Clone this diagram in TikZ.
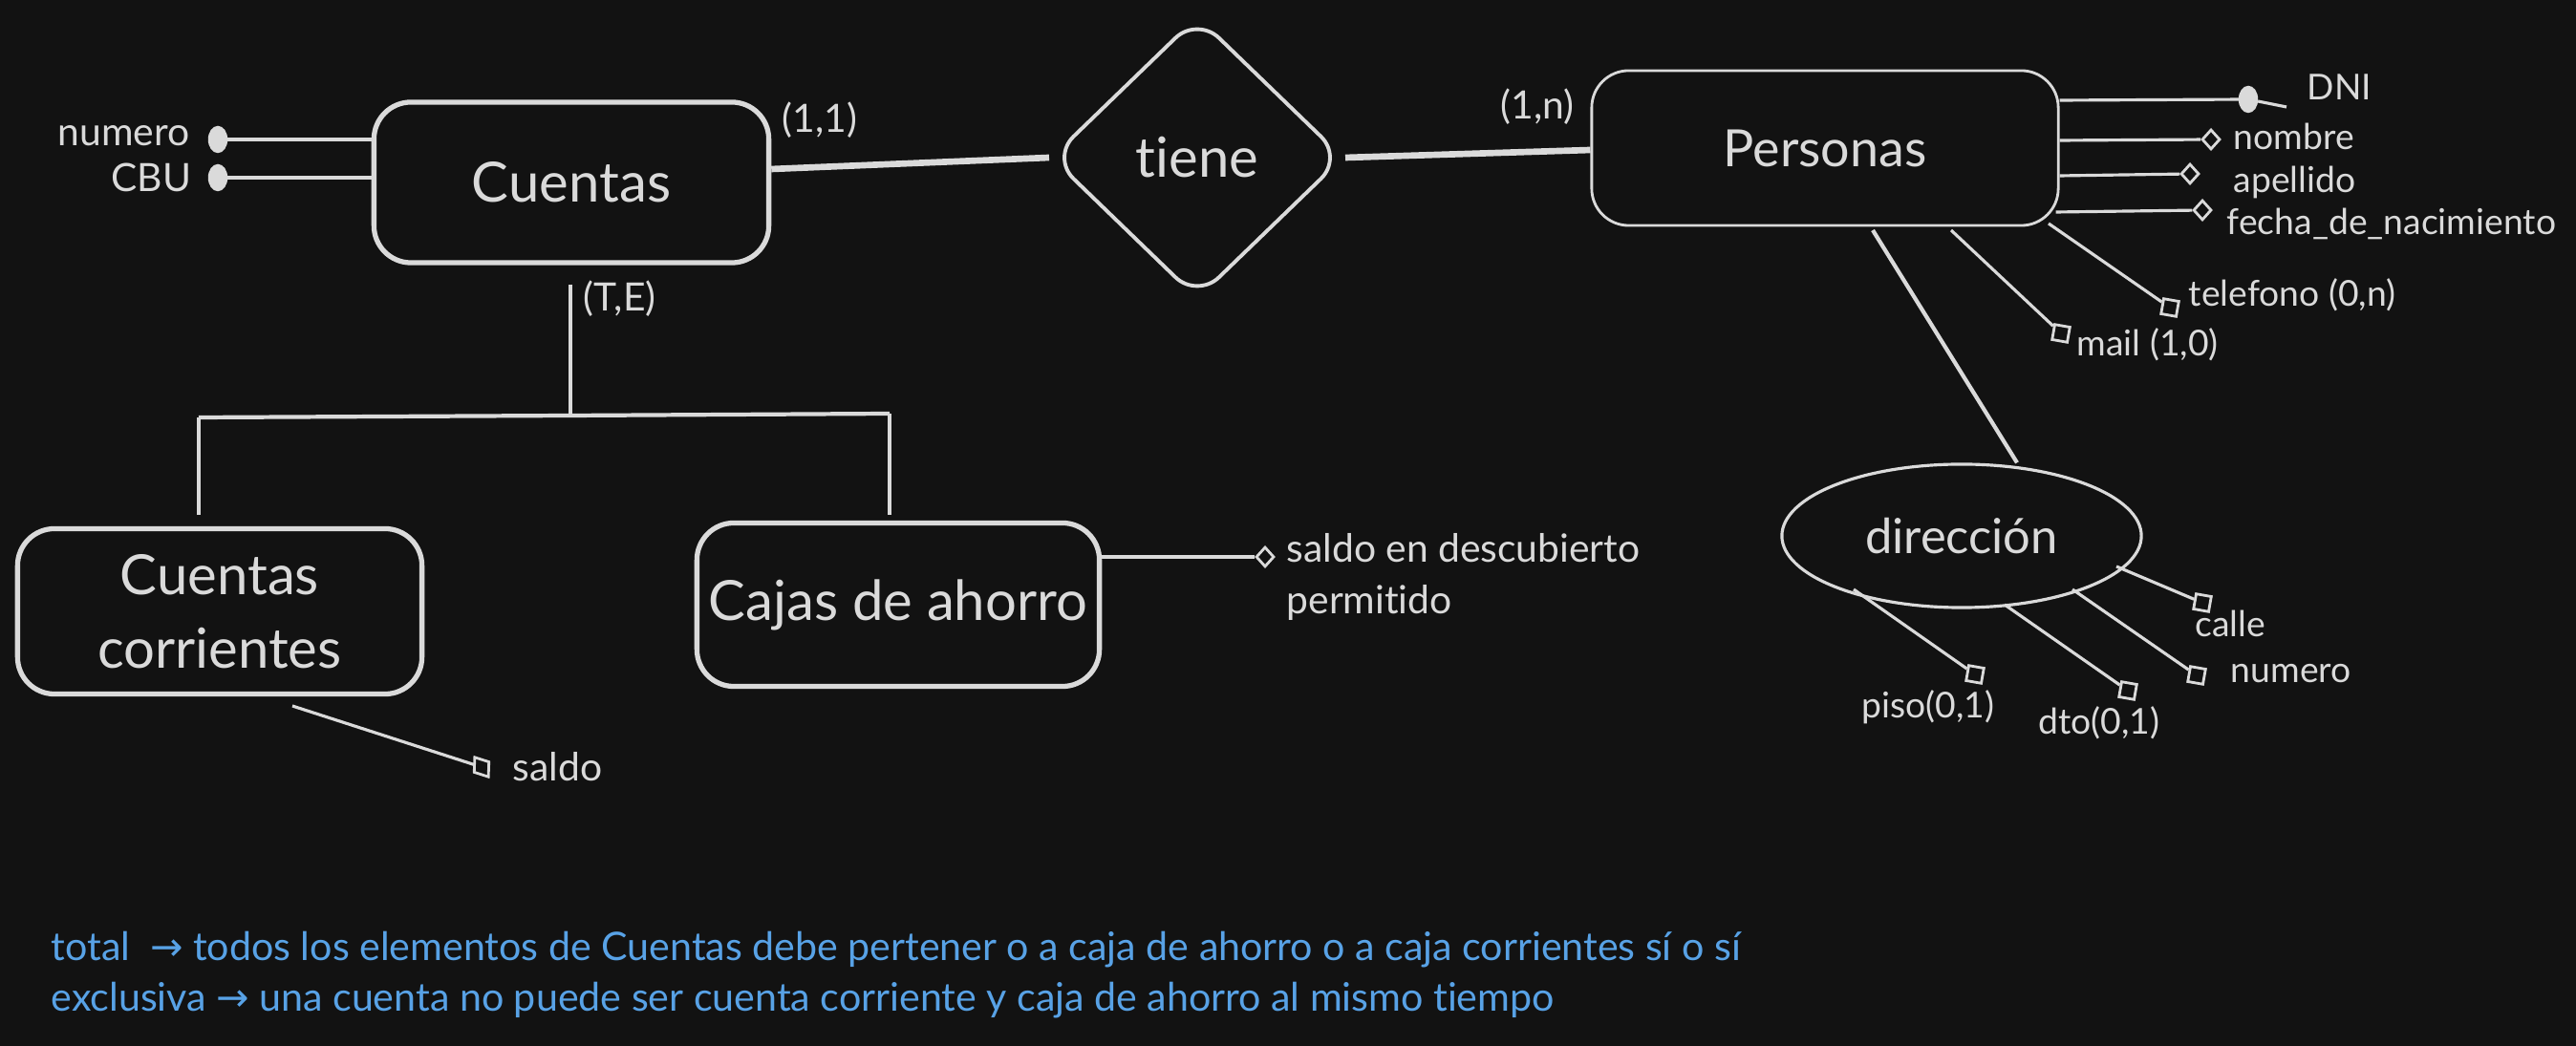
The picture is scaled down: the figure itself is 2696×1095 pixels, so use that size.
\documentclass[tikz,border=0pt]{standalone}
\usepackage{fontspec}
\setmainfont{Lato}[Ligatures=CommonOff]
\newfontfamily\arrfont{DejaVu Sans}
\usetikzlibrary{shapes.geometric,calc}
\definecolor{bg}{HTML}{121212}
\definecolor{ink}{HTML}{DADADA}
\definecolor{note}{HTML}{58A2E6}
\tikzset{
  entity/.style={draw=ink,line width=1.5pt,rounded corners=11pt,fill=bg,text=ink,font=\fontsize{16.5}{22}\selectfont,inner sep=0pt,align=center},
  thinentity/.style={entity,line width=0.8pt},
  rel/.style={draw=ink,diamond,line width=1.1pt,rounded corners=9pt,text=ink,font=\fontsize{16.5}{20}\selectfont,inner sep=0pt,minimum width=3.06cm,minimum height=2.96cm},
  compo/.style={draw=ink,ellipse,line width=0.9pt,text=ink,font=\fontsize{14.4}{18}\selectfont,inner sep=0pt,minimum width=3.76cm,minimum height=1.5cm},
  lbl/.style={text=ink,font=\fontsize{10.6}{13}\selectfont,inner sep=0pt},
  lblL/.style={text=ink,font=\fontsize{11.6}{14}\selectfont,inner sep=0pt},
  knob/.style={ellipse,fill=ink,draw=ink,minimum width=0.19cm,minimum height=0.27cm,inner sep=0pt},
  attrd/.style={diamond,draw=ink,line width=0.8pt,fill=bg,minimum width=0.19cm,minimum height=0.21cm,inner sep=0pt},
  attrs/.style={rectangle,draw=ink,line width=0.8pt,fill=bg,minimum size=0.16cm,inner sep=0pt,rotate=-10},
  attline/.style={draw=ink,line width=0.9pt},
  relline/.style={draw=ink,line width=1.9pt},
  isaline/.style={draw=ink,line width=1.2pt},
  notetext/.style={text=note,font=\fontsize{11.7}{15}\selectfont,inner sep=0pt,anchor=west}
}
\begin{document}
\begin{tikzpicture}[x=0.01cm,y=-0.01cm]
\fill[bg] (0,0) rectangle (2696,1095);
\useasboundingbox (0,0) rectangle (2696,1095);

% entities
\node[entity,minimum width=4.13cm,minimum height=1.68cm] (cuentas) at (598,191) {Cuentas};
\node[thinentity,minimum width=4.88cm,minimum height=1.62cm,font=\fontsize{15.3}{20}\selectfont] (personas) at (1910,155) {Personas};
\node[entity,minimum width=4.23cm,minimum height=1.73cm] (ccorr) at (230,640) {Cuentas\\corrientes};
\node[entity,minimum width=4.21cm,minimum height=1.71cm] (cajas) at (940,633) {Cajas de ahorro};
\node[rel] (tiene) at (1253,165) {tiene};
\node[compo] (dir) at (2053,561) {dirección};

% relationship lines
\draw[relline] ($(cuentas.east)+(0,-14)$) -- (tiene.west);
\draw[relline] (tiene.east) -- ($(personas.west)+(0,2)$);
\node[lblL,anchor=west] (c11) at (818,126) {(1,1)};
\node[lblL,anchor=east] (c1n) at (1648,112) {(1,n)};

% ISA hierarchy
\coordinate (isa) at (597,435);
\coordinate (isaL) at (208,437);
\coordinate (isaR) at (931,433);
\draw[isaline] ($(cuentas.south)+(-1,20)$) -- (isa);
\draw[isaline] (isaL) -- (isa) -- (isaR);
\draw[isaline] (isaL) -- ($(isaL |- ccorr.north)+(0,-12)$);
\draw[isaline] (isaR) -- ($(isaR |- cajas.north)+(0,-6)$);
\node[lblL,anchor=west] (te) at (610,313) {(T,E)};

% Cuentas attributes
\node[knob] (kn1) at (228,146) {};
\node[knob] (kn2) at (228,186) {};
\draw[attline] (kn1) -- (cuentas.west |- kn1);
\draw[attline] (kn2) -- (cuentas.west |- kn2);
\node[lblL,anchor=east] (lnum) at (199,142) {numero};
\node[lblL,anchor=east] (lcbu) at (201,186) {CBU};

% Personas attributes
\node[knob] (kdni) at (2353,104) {};
\coordinate (dniEnd) at (2393,112);
\draw[attline] ($(personas.east)+(0,-50)$) -- (kdni) -- (dniEnd);
\node[lbl,anchor=west] (ldni) at (2414,91) {DNI};

\node[attrd] (anom) at (2314,146) {};
\draw[attline] ($(personas.east)+(0,-8)$) -- (anom);
\node[lbl,anchor=west] (lnom) at (2337,143) {nombre};

\node[attrd] (aape) at (2292,182) {};
\draw[attline] ($(personas.east)+(0,29)$) -- (aape);
\node[lbl,anchor=west] (lape) at (2337,191) {apellido};

\node[attrd] (afec) at (2305,220) {};
\draw[attline] ($(personas.east)+(-4,67)$) -- (afec);
\node[lbl,anchor=west] (lfec) at (2330,234) {fecha\_de\_nacimiento};

\node[attrs] (atel) at (2271,322) {};
\draw[attline] (2144,234) -- (atel);
\node[lbl,anchor=west] (ltel) at (2290,309) {telefono (0,n)};

\node[attrs] (amail) at (2157,349) {};
\draw[attline] (2042,241) -- (amail);
\node[lbl,anchor=west] (lmail) at (2173,361) {mail (1,0)};

% dirección
\draw[isaline] (1960,241) -- (dir.north -| 2111,0);

\node[attrs] (acal) at (2305,631) {};
\draw[attline] (2215,593) -- (acal);
\node[lbl] (lcal) at (2334,653) {calle};

\node[attrs] (anum) at (2299,707) {};
\draw[attline] (2169,617) -- (anum);
\node[lbl,anchor=west] (lnum2) at (2334,705) {numero};

\node[attrs] (adto) at (2227,723) {};
\draw[attline] (2098,633) -- (adto);
\node[lbl] (ldto) at (2197,757) {dto(0,1)};

\node[attrs] (apiso) at (2067,706) {};
\draw[attline] (1940,617) -- (apiso);
\node[lbl] (lpiso) at (2018,740) {piso(0,1)};

% Cajas attribute
\node[attrd] (asal) at (1324,583) {};
\draw[attline] (cajas.east |- asal) -- (asal);
\node[lblL,anchor=west] (lsal) at (1346,574) {saldo en descubierto};
\node[lblL,anchor=west] (lsal2) at (1346,631) {permitido};

% Cuentas corrientes attribute
\node[attrd,rotate=35,minimum width=0.2cm,minimum height=0.26cm] (asaldo) at (504,803) {};
\draw[attline] (306,739) -- (asaldo);
\node[lblL,anchor=west] (lsaldo) at (536,803) {saldo};

% notes
\node[notetext] (n1) at (53,994) {total \ {\arrfont→} todos los elementos de Cuentas debe pertener o a caja de ahorro o a caja corrientes sí o sí};
\node[notetext] (n2) at (53,1047) {exclusiva {\arrfont→} una cuenta no puede ser cuenta corriente y caja de ahorro al mismo tiempo};
\end{tikzpicture}
\end{document}
